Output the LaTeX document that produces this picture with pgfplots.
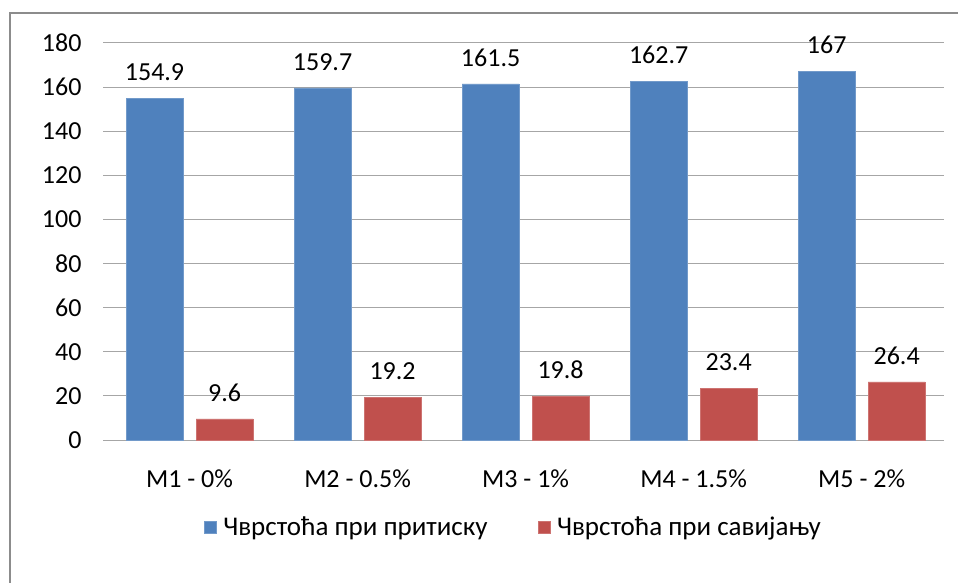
\documentclass[border=0pt]{standalone}
\usepackage{fontspec}
\setmainfont{Carlito}
\usepackage{pgfplots}
\pgfplotsset{compat=1.18}
\definecolor{serA}{HTML}{4F81BD}
\definecolor{serB}{HTML}{C0504D}
\definecolor{gridc}{HTML}{A6A6A6}
\definecolor{framec}{HTML}{8C8C8C}
\begin{document}
\begin{tikzpicture}[x=1pt,y=1pt,font=\fontsize{26}{30}\selectfont]
\useasboundingbox (0,0) rectangle (958,582);
\fill[white] (0,0) rectangle (958,582);
\draw[framec, line width=2pt] (10,-5) -- (10,569) -- (965,569);
\begin{axis}[
    at={(103pt,142pt)}, anchor=south west,
    scale only axis,
    width=841pt, height=397pt,
    ybar, bar width=57pt,
    xmin=-0.515, xmax=4.49,
    ymin=0, ymax=180,
    ytick={0,20,...,180},
    xtick={0,1,2,3,4},
    xticklabels={M1 - 0\%, M2 - 0.5\%, M3 - 1\%, M4 - 1.5\%, M5 - 2\%},
    major tick length=0pt,
    axis x line*=bottom,
    axis y line*=left,
    y axis line style={draw=none},
    x axis line style={gridc, line width=1pt},
    ymajorgrids,
    grid style={gridc, line width=1pt},
    /pgf/number format/assume math mode=true,
    ticklabel style={font=\fontsize{26}{30}\selectfont},
    yticklabel style={xshift=-18pt},
    xticklabel style={yshift=-26pt},
    nodes near coords,
    nodes near coords style={yshift=14pt, font=\fontsize{26}{30}\selectfont},
    point meta=explicit symbolic,
    legend columns=2,
    legend style={at={(0.488,-0.219)}, anchor=center, draw=none, fill=none,
        font=\fontsize{27}{31}\selectfont,
        /tikz/every odd column/.append style={column sep=5pt},
        /tikz/every even column/.append style={column sep=48pt}},
    legend image code/.code={\fill[#1] (0pt,-6pt) rectangle (12pt,6pt);},
]
\addplot[fill=serA, draw=serA!80!white, bar shift=-35pt] coordinates {
    (0,154.9) [154.9]
    (1,159.7) [159.7]
    (2,161.5) [161.5]
    (3,162.7) [162.7]
    (4,167.0) [167]
};
\addlegendentry{Чврстоћа при притиску}
\addplot[fill=serB, draw=serB!80!white, bar shift=35pt] coordinates {
    (0,9.6) [9.6]
    (1,19.2) [19.2]
    (2,19.8) [19.8]
    (3,23.4) [23.4]
    (4,26.4) [26.4]
};
\addlegendentry{Чврстоћа при савијању}
\end{axis}
\end{tikzpicture}
\end{document}
